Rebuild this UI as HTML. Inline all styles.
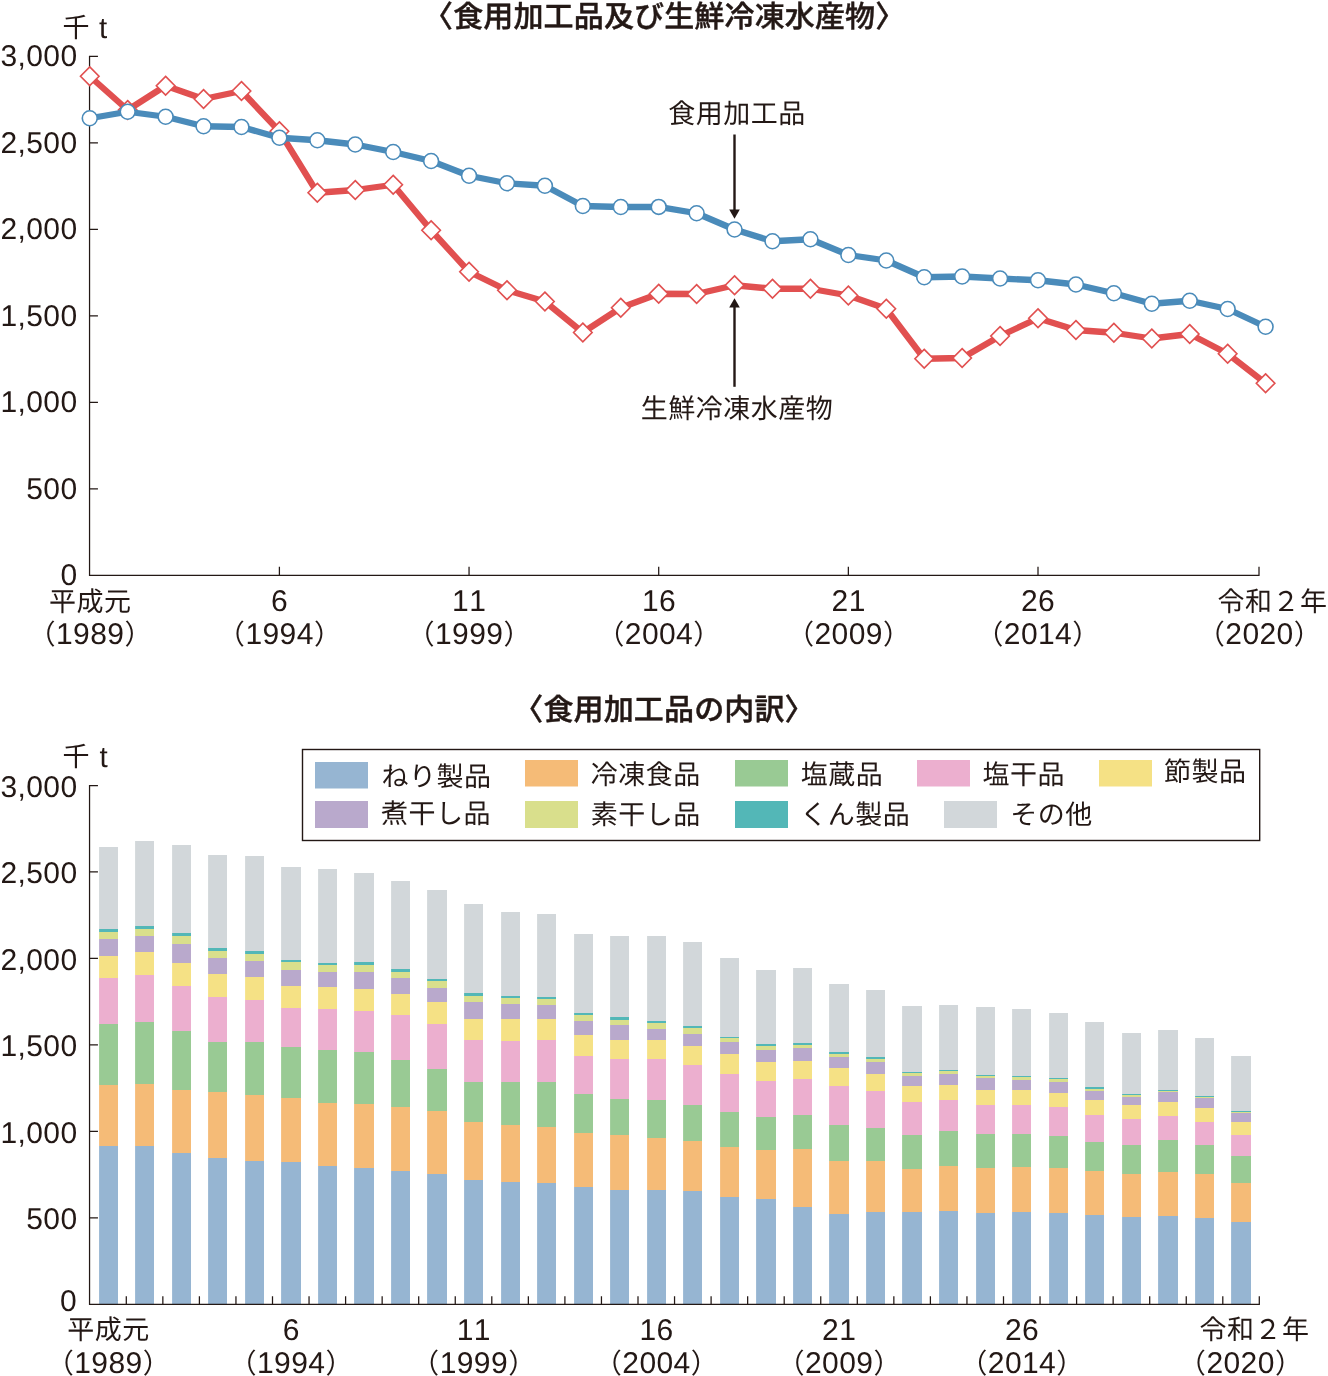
<!DOCTYPE html>
<html lang="ja"><head><meta charset="utf-8"><title>水産加工品生産量の推移</title>
<style>
html,body{margin:0;padding:0;background:#fff;}
body{width:1328px;height:1376px;overflow:hidden;}
svg{display:block;}
text{font-family:"Liberation Sans","Noto Sans CJK JP",sans-serif;fill:#231815;text-rendering:geometricPrecision;}
.jp{font-family:"Noto Sans CJK JP","Liberation Sans",sans-serif;font-weight:400;letter-spacing:0.5px;}
.num{font-family:"Liberation Sans","Noto Sans CJK JP",sans-serif;font-weight:400;letter-spacing:0.4px;font-kerning:none;}
.ttl{font-family:"Noto Sans CJK JP","Liberation Sans",sans-serif;font-weight:500;font-size:30px;letter-spacing:0.15px;stroke:#231815;stroke-width:0.45px;stroke-linejoin:round;}
.ax{stroke:#231815;stroke-width:1.25;fill:none;stroke-linejoin:miter;}
</style></head><body>
<svg width="1328" height="1376" viewBox="0 0 1328 1376">
<rect x="0" y="0" width="1328" height="1376" fill="#ffffff"/>
<g id="chart1">
<text class="ttl" x="664.2" y="26.6" font-size="30" text-anchor="middle">〈食用加工品及び生鮮冷凍水産物〉</text>
<path class="ax" d="M97.95 56.4 H89.55 V575.3 H1259.0 v-8.5"/>
<path class="ax" d="M89.55 142.88 h8.4 M89.55 229.37 h8.4 M89.55 315.85 h8.4 M89.55 402.33 h8.4 M89.55 488.82 h8.4 M279.40 575.3 v-8.5 M469.05 575.3 v-8.5 M658.70 575.3 v-8.5 M848.35 575.3 v-8.5 M1038.00 575.3 v-8.5 "/>
<text class="jp" font-size="27" text-anchor="start" x="62.45" y="36.6">千 <tspan class="num" font-size="29.5" text-anchor="middle" x="103.2" y="37.5">t</tspan></text>
<text class="num" x="77.5" y="66.2" font-size="30.0" text-anchor="end">3,000</text>
<text class="num" x="77.5" y="152.68" font-size="30.0" text-anchor="end">2,500</text>
<text class="num" x="77.5" y="239.17" font-size="30.0" text-anchor="end">2,000</text>
<text class="num" x="77.5" y="325.65" font-size="30.0" text-anchor="end">1,500</text>
<text class="num" x="77.5" y="412.13" font-size="30.0" text-anchor="end">1,000</text>
<text class="num" x="77.5" y="498.62" font-size="30.0" text-anchor="end">500</text>
<text class="num" x="77.5" y="585.1" font-size="30.0" text-anchor="end">0</text>
<text class="jp" x="90.2" y="610.5" font-size="27" text-anchor="middle">平成元</text>
<text class="num" font-size="30.0" text-anchor="middle" y="644"><tspan class="jp" font-size="27.6" x="42.00" dy="0.2">（</tspan><tspan x="90.20" dy="-0.2">1989</tspan><tspan class="jp" font-size="27.6" x="138.60" dy="0.2">）</tspan></text>
<text class="num" x="279.6" y="610.5" font-size="30.0" text-anchor="middle">6</text>
<text class="num" font-size="30.0" text-anchor="middle" y="644"><tspan class="jp" font-size="27.6" x="231.40" dy="0.2">（</tspan><tspan x="279.60" dy="-0.2">1994</tspan><tspan class="jp" font-size="27.6" x="328.00" dy="0.2">）</tspan></text>
<text class="num" x="469.2" y="610.5" font-size="30.0" text-anchor="middle">11</text>
<text class="num" font-size="30.0" text-anchor="middle" y="644"><tspan class="jp" font-size="27.6" x="421.00" dy="0.2">（</tspan><tspan x="469.20" dy="-0.2">1999</tspan><tspan class="jp" font-size="27.6" x="517.60" dy="0.2">）</tspan></text>
<text class="num" x="659" y="610.5" font-size="30.0" text-anchor="middle">16</text>
<text class="num" font-size="30.0" text-anchor="middle" y="644"><tspan class="jp" font-size="27.6" x="610.80" dy="0.2">（</tspan><tspan x="659.00" dy="-0.2">2004</tspan><tspan class="jp" font-size="27.6" x="707.40" dy="0.2">）</tspan></text>
<text class="num" x="848.7" y="610.5" font-size="30.0" text-anchor="middle">21</text>
<text class="num" font-size="30.0" text-anchor="middle" y="644"><tspan class="jp" font-size="27.6" x="800.50" dy="0.2">（</tspan><tspan x="848.70" dy="-0.2">2009</tspan><tspan class="jp" font-size="27.6" x="897.10" dy="0.2">）</tspan></text>
<text class="num" x="1038" y="610.5" font-size="30.0" text-anchor="middle">26</text>
<text class="num" font-size="30.0" text-anchor="middle" y="644"><tspan class="jp" font-size="27.6" x="989.80" dy="0.2">（</tspan><tspan x="1038.00" dy="-0.2">2014</tspan><tspan class="jp" font-size="27.6" x="1086.40" dy="0.2">）</tspan></text>
<text class="jp" x="1272.5" y="610.5" font-size="27" text-anchor="middle">令和２年</text>
<text class="num" font-size="30.0" text-anchor="middle" y="644"><tspan class="jp" font-size="27.6" x="1211.30" dy="0.2">（</tspan><tspan x="1259.50" dy="-0.2">2020</tspan><tspan class="jp" font-size="27.6" x="1307.90" dy="0.2">）</tspan></text>
<polyline points="89.75,76.25 127.68,110 165.61,85.75 203.54,99 241.47,91 279.40,131.25 317.33,192.75 355.26,190 393.19,184.75 431.12,230.25 469.05,271.75 506.98,290.25 544.91,301.5 582.84,332.5 620.77,307.75 658.70,293.75 696.63,294 734.56,285.25 772.49,288.75 810.42,288.75 848.35,295.5 886.28,308.75 924.21,358.75 962.14,358 1000.07,336 1038.00,318.25 1075.93,330 1113.86,332.75 1151.79,338.5 1189.72,334 1227.65,353.75 1265.58,383.25" fill="none" stroke="#e15050" stroke-width="6.3" stroke-linejoin="round"/>
<path d="M89.75 66.90 l9.25 9.35 l-9.25 9.35 l-9.25 -9.35 z" fill="#fff" stroke="#e15050" stroke-width="1.65"/>
<path d="M127.68 100.65 l9.25 9.35 l-9.25 9.35 l-9.25 -9.35 z" fill="#fff" stroke="#e15050" stroke-width="1.65"/>
<path d="M165.61 76.40 l9.25 9.35 l-9.25 9.35 l-9.25 -9.35 z" fill="#fff" stroke="#e15050" stroke-width="1.65"/>
<path d="M203.54 89.65 l9.25 9.35 l-9.25 9.35 l-9.25 -9.35 z" fill="#fff" stroke="#e15050" stroke-width="1.65"/>
<path d="M241.47 81.65 l9.25 9.35 l-9.25 9.35 l-9.25 -9.35 z" fill="#fff" stroke="#e15050" stroke-width="1.65"/>
<path d="M279.40 121.90 l9.25 9.35 l-9.25 9.35 l-9.25 -9.35 z" fill="#fff" stroke="#e15050" stroke-width="1.65"/>
<path d="M317.33 183.40 l9.25 9.35 l-9.25 9.35 l-9.25 -9.35 z" fill="#fff" stroke="#e15050" stroke-width="1.65"/>
<path d="M355.26 180.65 l9.25 9.35 l-9.25 9.35 l-9.25 -9.35 z" fill="#fff" stroke="#e15050" stroke-width="1.65"/>
<path d="M393.19 175.40 l9.25 9.35 l-9.25 9.35 l-9.25 -9.35 z" fill="#fff" stroke="#e15050" stroke-width="1.65"/>
<path d="M431.12 220.90 l9.25 9.35 l-9.25 9.35 l-9.25 -9.35 z" fill="#fff" stroke="#e15050" stroke-width="1.65"/>
<path d="M469.05 262.40 l9.25 9.35 l-9.25 9.35 l-9.25 -9.35 z" fill="#fff" stroke="#e15050" stroke-width="1.65"/>
<path d="M506.98 280.90 l9.25 9.35 l-9.25 9.35 l-9.25 -9.35 z" fill="#fff" stroke="#e15050" stroke-width="1.65"/>
<path d="M544.91 292.15 l9.25 9.35 l-9.25 9.35 l-9.25 -9.35 z" fill="#fff" stroke="#e15050" stroke-width="1.65"/>
<path d="M582.84 323.15 l9.25 9.35 l-9.25 9.35 l-9.25 -9.35 z" fill="#fff" stroke="#e15050" stroke-width="1.65"/>
<path d="M620.77 298.40 l9.25 9.35 l-9.25 9.35 l-9.25 -9.35 z" fill="#fff" stroke="#e15050" stroke-width="1.65"/>
<path d="M658.70 284.40 l9.25 9.35 l-9.25 9.35 l-9.25 -9.35 z" fill="#fff" stroke="#e15050" stroke-width="1.65"/>
<path d="M696.63 284.65 l9.25 9.35 l-9.25 9.35 l-9.25 -9.35 z" fill="#fff" stroke="#e15050" stroke-width="1.65"/>
<path d="M734.56 275.90 l9.25 9.35 l-9.25 9.35 l-9.25 -9.35 z" fill="#fff" stroke="#e15050" stroke-width="1.65"/>
<path d="M772.49 279.40 l9.25 9.35 l-9.25 9.35 l-9.25 -9.35 z" fill="#fff" stroke="#e15050" stroke-width="1.65"/>
<path d="M810.42 279.40 l9.25 9.35 l-9.25 9.35 l-9.25 -9.35 z" fill="#fff" stroke="#e15050" stroke-width="1.65"/>
<path d="M848.35 286.15 l9.25 9.35 l-9.25 9.35 l-9.25 -9.35 z" fill="#fff" stroke="#e15050" stroke-width="1.65"/>
<path d="M886.28 299.40 l9.25 9.35 l-9.25 9.35 l-9.25 -9.35 z" fill="#fff" stroke="#e15050" stroke-width="1.65"/>
<path d="M924.21 349.40 l9.25 9.35 l-9.25 9.35 l-9.25 -9.35 z" fill="#fff" stroke="#e15050" stroke-width="1.65"/>
<path d="M962.14 348.65 l9.25 9.35 l-9.25 9.35 l-9.25 -9.35 z" fill="#fff" stroke="#e15050" stroke-width="1.65"/>
<path d="M1000.07 326.65 l9.25 9.35 l-9.25 9.35 l-9.25 -9.35 z" fill="#fff" stroke="#e15050" stroke-width="1.65"/>
<path d="M1038.00 308.90 l9.25 9.35 l-9.25 9.35 l-9.25 -9.35 z" fill="#fff" stroke="#e15050" stroke-width="1.65"/>
<path d="M1075.93 320.65 l9.25 9.35 l-9.25 9.35 l-9.25 -9.35 z" fill="#fff" stroke="#e15050" stroke-width="1.65"/>
<path d="M1113.86 323.40 l9.25 9.35 l-9.25 9.35 l-9.25 -9.35 z" fill="#fff" stroke="#e15050" stroke-width="1.65"/>
<path d="M1151.79 329.15 l9.25 9.35 l-9.25 9.35 l-9.25 -9.35 z" fill="#fff" stroke="#e15050" stroke-width="1.65"/>
<path d="M1189.72 324.65 l9.25 9.35 l-9.25 9.35 l-9.25 -9.35 z" fill="#fff" stroke="#e15050" stroke-width="1.65"/>
<path d="M1227.65 344.40 l9.25 9.35 l-9.25 9.35 l-9.25 -9.35 z" fill="#fff" stroke="#e15050" stroke-width="1.65"/>
<path d="M1265.58 373.90 l9.25 9.35 l-9.25 9.35 l-9.25 -9.35 z" fill="#fff" stroke="#e15050" stroke-width="1.65"/>
<polyline points="89.75,118.25 127.68,111.75 165.61,116.75 203.54,126.25 241.47,127 279.40,137.75 317.33,140.25 355.26,144.5 393.19,152 431.12,161 469.05,175.75 506.98,183.25 544.91,185.75 582.84,206 620.77,207 658.70,206.9 696.63,213.25 734.56,229.5 772.49,241.25 810.42,239.25 848.35,255 886.28,260.5 924.21,277.25 962.14,276.5 1000.07,278.5 1038.00,280.25 1075.93,284.5 1113.86,293.25 1151.79,303.75 1189.72,300.75 1227.65,309 1265.58,326.75" fill="none" stroke="#4a8bba" stroke-width="6.3" stroke-linejoin="round"/>
<circle cx="89.75" cy="118.25" r="7.45" fill="#fff" stroke="#4a8bba" stroke-width="1.6"/>
<circle cx="127.68" cy="111.75" r="7.45" fill="#fff" stroke="#4a8bba" stroke-width="1.6"/>
<circle cx="165.61" cy="116.75" r="7.45" fill="#fff" stroke="#4a8bba" stroke-width="1.6"/>
<circle cx="203.54" cy="126.25" r="7.45" fill="#fff" stroke="#4a8bba" stroke-width="1.6"/>
<circle cx="241.47" cy="127" r="7.45" fill="#fff" stroke="#4a8bba" stroke-width="1.6"/>
<circle cx="279.40" cy="137.75" r="7.45" fill="#fff" stroke="#4a8bba" stroke-width="1.6"/>
<circle cx="317.33" cy="140.25" r="7.45" fill="#fff" stroke="#4a8bba" stroke-width="1.6"/>
<circle cx="355.26" cy="144.5" r="7.45" fill="#fff" stroke="#4a8bba" stroke-width="1.6"/>
<circle cx="393.19" cy="152" r="7.45" fill="#fff" stroke="#4a8bba" stroke-width="1.6"/>
<circle cx="431.12" cy="161" r="7.45" fill="#fff" stroke="#4a8bba" stroke-width="1.6"/>
<circle cx="469.05" cy="175.75" r="7.45" fill="#fff" stroke="#4a8bba" stroke-width="1.6"/>
<circle cx="506.98" cy="183.25" r="7.45" fill="#fff" stroke="#4a8bba" stroke-width="1.6"/>
<circle cx="544.91" cy="185.75" r="7.45" fill="#fff" stroke="#4a8bba" stroke-width="1.6"/>
<circle cx="582.84" cy="206" r="7.45" fill="#fff" stroke="#4a8bba" stroke-width="1.6"/>
<circle cx="620.77" cy="207" r="7.45" fill="#fff" stroke="#4a8bba" stroke-width="1.6"/>
<circle cx="658.70" cy="206.9" r="7.45" fill="#fff" stroke="#4a8bba" stroke-width="1.6"/>
<circle cx="696.63" cy="213.25" r="7.45" fill="#fff" stroke="#4a8bba" stroke-width="1.6"/>
<circle cx="734.56" cy="229.5" r="7.45" fill="#fff" stroke="#4a8bba" stroke-width="1.6"/>
<circle cx="772.49" cy="241.25" r="7.45" fill="#fff" stroke="#4a8bba" stroke-width="1.6"/>
<circle cx="810.42" cy="239.25" r="7.45" fill="#fff" stroke="#4a8bba" stroke-width="1.6"/>
<circle cx="848.35" cy="255" r="7.45" fill="#fff" stroke="#4a8bba" stroke-width="1.6"/>
<circle cx="886.28" cy="260.5" r="7.45" fill="#fff" stroke="#4a8bba" stroke-width="1.6"/>
<circle cx="924.21" cy="277.25" r="7.45" fill="#fff" stroke="#4a8bba" stroke-width="1.6"/>
<circle cx="962.14" cy="276.5" r="7.45" fill="#fff" stroke="#4a8bba" stroke-width="1.6"/>
<circle cx="1000.07" cy="278.5" r="7.45" fill="#fff" stroke="#4a8bba" stroke-width="1.6"/>
<circle cx="1038.00" cy="280.25" r="7.45" fill="#fff" stroke="#4a8bba" stroke-width="1.6"/>
<circle cx="1075.93" cy="284.5" r="7.45" fill="#fff" stroke="#4a8bba" stroke-width="1.6"/>
<circle cx="1113.86" cy="293.25" r="7.45" fill="#fff" stroke="#4a8bba" stroke-width="1.6"/>
<circle cx="1151.79" cy="303.75" r="7.45" fill="#fff" stroke="#4a8bba" stroke-width="1.6"/>
<circle cx="1189.72" cy="300.75" r="7.45" fill="#fff" stroke="#4a8bba" stroke-width="1.6"/>
<circle cx="1227.65" cy="309" r="7.45" fill="#fff" stroke="#4a8bba" stroke-width="1.6"/>
<circle cx="1265.58" cy="326.75" r="7.45" fill="#fff" stroke="#4a8bba" stroke-width="1.6"/>
<text class="jp" x="737" y="122.5" font-size="27" text-anchor="middle">食用加工品</text>
<text class="jp" x="737" y="417.5" font-size="27" text-anchor="middle">生鮮冷凍水産物</text>
<path d="M734.5 134.5 V211" stroke="#231815" stroke-width="2.4" fill="none"/>
<path d="M729.2 209.5 h10.6 L734.5 218.8 z" fill="#231815"/>
<path d="M734.5 386.8 V306" stroke="#231815" stroke-width="2.4" fill="none"/>
<path d="M729.2 307.5 h10.6 L734.5 298.2 z" fill="#231815"/>
</g>
<g id="chart2">
<text class="ttl" x="664" y="720" font-size="30" text-anchor="middle">〈食用加工品の内訳〉</text>
<rect x="99.10" y="847" width="18.90" height="82.00" fill="#d2d7da"/>
<rect x="99.10" y="929" width="18.90" height="3.00" fill="#53b7b7"/>
<rect x="99.10" y="932" width="18.90" height="7.00" fill="#d9df8c"/>
<rect x="99.10" y="939" width="18.90" height="17.00" fill="#b9a9cc"/>
<rect x="99.10" y="956" width="18.90" height="22.00" fill="#f5e185"/>
<rect x="99.10" y="978" width="18.90" height="46.00" fill="#ecafcf"/>
<rect x="99.10" y="1024" width="18.90" height="61.00" fill="#99ca94"/>
<rect x="99.10" y="1085" width="18.90" height="61.00" fill="#f5bb77"/>
<rect x="99.10" y="1146" width="18.90" height="158.25" fill="#96b5d2"/>
<rect x="135.10" y="841" width="18.90" height="85.00" fill="#d2d7da"/>
<rect x="135.10" y="926" width="18.90" height="3.00" fill="#53b7b7"/>
<rect x="135.10" y="929" width="18.90" height="7.00" fill="#d9df8c"/>
<rect x="135.10" y="936" width="18.90" height="16.00" fill="#b9a9cc"/>
<rect x="135.10" y="952" width="18.90" height="23.00" fill="#f5e185"/>
<rect x="135.10" y="975" width="18.90" height="47.00" fill="#ecafcf"/>
<rect x="135.10" y="1022" width="18.90" height="62.00" fill="#99ca94"/>
<rect x="135.10" y="1084" width="18.90" height="62.00" fill="#f5bb77"/>
<rect x="135.10" y="1146" width="18.90" height="158.25" fill="#96b5d2"/>
<rect x="172.10" y="845" width="18.90" height="88.00" fill="#d2d7da"/>
<rect x="172.10" y="933" width="18.90" height="3.00" fill="#53b7b7"/>
<rect x="172.10" y="936" width="18.90" height="8.00" fill="#d9df8c"/>
<rect x="172.10" y="944" width="18.90" height="19.00" fill="#b9a9cc"/>
<rect x="172.10" y="963" width="18.90" height="23.00" fill="#f5e185"/>
<rect x="172.10" y="986" width="18.90" height="45.00" fill="#ecafcf"/>
<rect x="172.10" y="1031" width="18.90" height="59.00" fill="#99ca94"/>
<rect x="172.10" y="1090" width="18.90" height="63.00" fill="#f5bb77"/>
<rect x="172.10" y="1153" width="18.90" height="151.25" fill="#96b5d2"/>
<rect x="208.10" y="855" width="18.90" height="93.00" fill="#d2d7da"/>
<rect x="208.10" y="948" width="18.90" height="3.00" fill="#53b7b7"/>
<rect x="208.10" y="951" width="18.90" height="7.00" fill="#d9df8c"/>
<rect x="208.10" y="958" width="18.90" height="16.00" fill="#b9a9cc"/>
<rect x="208.10" y="974" width="18.90" height="23.00" fill="#f5e185"/>
<rect x="208.10" y="997" width="18.90" height="45.00" fill="#ecafcf"/>
<rect x="208.10" y="1042" width="18.90" height="50.00" fill="#99ca94"/>
<rect x="208.10" y="1092" width="18.90" height="66.00" fill="#f5bb77"/>
<rect x="208.10" y="1158" width="18.90" height="146.25" fill="#96b5d2"/>
<rect x="245.10" y="856" width="18.90" height="95.00" fill="#d2d7da"/>
<rect x="245.10" y="951" width="18.90" height="3.00" fill="#53b7b7"/>
<rect x="245.10" y="954" width="18.90" height="7.00" fill="#d9df8c"/>
<rect x="245.10" y="961" width="18.90" height="16.00" fill="#b9a9cc"/>
<rect x="245.10" y="977" width="18.90" height="23.00" fill="#f5e185"/>
<rect x="245.10" y="1000" width="18.90" height="42.00" fill="#ecafcf"/>
<rect x="245.10" y="1042" width="18.90" height="53.00" fill="#99ca94"/>
<rect x="245.10" y="1095" width="18.90" height="66.00" fill="#f5bb77"/>
<rect x="245.10" y="1161" width="18.90" height="143.25" fill="#96b5d2"/>
<rect x="281.10" y="867" width="19.90" height="93.00" fill="#d2d7da"/>
<rect x="281.10" y="960" width="19.90" height="2.00" fill="#53b7b7"/>
<rect x="281.10" y="962" width="19.90" height="8.00" fill="#d9df8c"/>
<rect x="281.10" y="970" width="19.90" height="16.00" fill="#b9a9cc"/>
<rect x="281.10" y="986" width="19.90" height="22.00" fill="#f5e185"/>
<rect x="281.10" y="1008" width="19.90" height="39.00" fill="#ecafcf"/>
<rect x="281.10" y="1047" width="19.90" height="51.00" fill="#99ca94"/>
<rect x="281.10" y="1098" width="19.90" height="64.00" fill="#f5bb77"/>
<rect x="281.10" y="1162" width="19.90" height="142.25" fill="#96b5d2"/>
<rect x="318.10" y="869" width="18.90" height="94.00" fill="#d2d7da"/>
<rect x="318.10" y="963" width="18.90" height="2.00" fill="#53b7b7"/>
<rect x="318.10" y="965" width="18.90" height="7.00" fill="#d9df8c"/>
<rect x="318.10" y="972" width="18.90" height="15.00" fill="#b9a9cc"/>
<rect x="318.10" y="987" width="18.90" height="22.00" fill="#f5e185"/>
<rect x="318.10" y="1009" width="18.90" height="41.00" fill="#ecafcf"/>
<rect x="318.10" y="1050" width="18.90" height="53.00" fill="#99ca94"/>
<rect x="318.10" y="1103" width="18.90" height="63.00" fill="#f5bb77"/>
<rect x="318.10" y="1166" width="18.90" height="138.25" fill="#96b5d2"/>
<rect x="354.10" y="873" width="19.90" height="89.00" fill="#d2d7da"/>
<rect x="354.10" y="962" width="19.90" height="3.00" fill="#53b7b7"/>
<rect x="354.10" y="965" width="19.90" height="7.00" fill="#d9df8c"/>
<rect x="354.10" y="972" width="19.90" height="17.00" fill="#b9a9cc"/>
<rect x="354.10" y="989" width="19.90" height="22.00" fill="#f5e185"/>
<rect x="354.10" y="1011" width="19.90" height="41.00" fill="#ecafcf"/>
<rect x="354.10" y="1052" width="19.90" height="52.00" fill="#99ca94"/>
<rect x="354.10" y="1104" width="19.90" height="64.00" fill="#f5bb77"/>
<rect x="354.10" y="1168" width="19.90" height="136.25" fill="#96b5d2"/>
<rect x="391.10" y="881" width="18.90" height="88.00" fill="#d2d7da"/>
<rect x="391.10" y="969" width="18.90" height="3.00" fill="#53b7b7"/>
<rect x="391.10" y="972" width="18.90" height="6.00" fill="#d9df8c"/>
<rect x="391.10" y="978" width="18.90" height="16.00" fill="#b9a9cc"/>
<rect x="391.10" y="994" width="18.90" height="21.00" fill="#f5e185"/>
<rect x="391.10" y="1015" width="18.90" height="45.00" fill="#ecafcf"/>
<rect x="391.10" y="1060" width="18.90" height="47.00" fill="#99ca94"/>
<rect x="391.10" y="1107" width="18.90" height="64.00" fill="#f5bb77"/>
<rect x="391.10" y="1171" width="18.90" height="133.25" fill="#96b5d2"/>
<rect x="427.10" y="890" width="19.90" height="89.00" fill="#d2d7da"/>
<rect x="427.10" y="979" width="19.90" height="2.00" fill="#53b7b7"/>
<rect x="427.10" y="981" width="19.90" height="7.00" fill="#d9df8c"/>
<rect x="427.10" y="988" width="19.90" height="14.00" fill="#b9a9cc"/>
<rect x="427.10" y="1002" width="19.90" height="22.00" fill="#f5e185"/>
<rect x="427.10" y="1024" width="19.90" height="45.00" fill="#ecafcf"/>
<rect x="427.10" y="1069" width="19.90" height="42.00" fill="#99ca94"/>
<rect x="427.10" y="1111" width="19.90" height="63.00" fill="#f5bb77"/>
<rect x="427.10" y="1174" width="19.90" height="130.25" fill="#96b5d2"/>
<rect x="464.10" y="904" width="18.90" height="89.00" fill="#d2d7da"/>
<rect x="464.10" y="993" width="18.90" height="3.00" fill="#53b7b7"/>
<rect x="464.10" y="996" width="18.90" height="6.00" fill="#d9df8c"/>
<rect x="464.10" y="1002" width="18.90" height="17.00" fill="#b9a9cc"/>
<rect x="464.10" y="1019" width="18.90" height="21.00" fill="#f5e185"/>
<rect x="464.10" y="1040" width="18.90" height="42.00" fill="#ecafcf"/>
<rect x="464.10" y="1082" width="18.90" height="40.00" fill="#99ca94"/>
<rect x="464.10" y="1122" width="18.90" height="58.00" fill="#f5bb77"/>
<rect x="464.10" y="1180" width="18.90" height="124.25" fill="#96b5d2"/>
<rect x="501.10" y="912" width="18.90" height="84.00" fill="#d2d7da"/>
<rect x="501.10" y="996" width="18.90" height="2.00" fill="#53b7b7"/>
<rect x="501.10" y="998" width="18.90" height="6.00" fill="#d9df8c"/>
<rect x="501.10" y="1004" width="18.90" height="15.00" fill="#b9a9cc"/>
<rect x="501.10" y="1019" width="18.90" height="22.00" fill="#f5e185"/>
<rect x="501.10" y="1041" width="18.90" height="41.00" fill="#ecafcf"/>
<rect x="501.10" y="1082" width="18.90" height="43.00" fill="#99ca94"/>
<rect x="501.10" y="1125" width="18.90" height="57.00" fill="#f5bb77"/>
<rect x="501.10" y="1182" width="18.90" height="122.25" fill="#96b5d2"/>
<rect x="537.10" y="914" width="18.90" height="83.00" fill="#d2d7da"/>
<rect x="537.10" y="997" width="18.90" height="2.00" fill="#53b7b7"/>
<rect x="537.10" y="999" width="18.90" height="6.00" fill="#d9df8c"/>
<rect x="537.10" y="1005" width="18.90" height="14.00" fill="#b9a9cc"/>
<rect x="537.10" y="1019" width="18.90" height="21.00" fill="#f5e185"/>
<rect x="537.10" y="1040" width="18.90" height="42.00" fill="#ecafcf"/>
<rect x="537.10" y="1082" width="18.90" height="45.00" fill="#99ca94"/>
<rect x="537.10" y="1127" width="18.90" height="56.00" fill="#f5bb77"/>
<rect x="537.10" y="1183" width="18.90" height="121.25" fill="#96b5d2"/>
<rect x="574.10" y="934" width="18.90" height="79.00" fill="#d2d7da"/>
<rect x="574.10" y="1013" width="18.90" height="2.00" fill="#53b7b7"/>
<rect x="574.10" y="1015" width="18.90" height="6.00" fill="#d9df8c"/>
<rect x="574.10" y="1021" width="18.90" height="14.00" fill="#b9a9cc"/>
<rect x="574.10" y="1035" width="18.90" height="21.00" fill="#f5e185"/>
<rect x="574.10" y="1056" width="18.90" height="38.00" fill="#ecafcf"/>
<rect x="574.10" y="1094" width="18.90" height="39.00" fill="#99ca94"/>
<rect x="574.10" y="1133" width="18.90" height="54.00" fill="#f5bb77"/>
<rect x="574.10" y="1187" width="18.90" height="117.25" fill="#96b5d2"/>
<rect x="610.10" y="936" width="18.90" height="81.00" fill="#d2d7da"/>
<rect x="610.10" y="1017" width="18.90" height="3.00" fill="#53b7b7"/>
<rect x="610.10" y="1020" width="18.90" height="5.00" fill="#d9df8c"/>
<rect x="610.10" y="1025" width="18.90" height="15.00" fill="#b9a9cc"/>
<rect x="610.10" y="1040" width="18.90" height="19.00" fill="#f5e185"/>
<rect x="610.10" y="1059" width="18.90" height="40.00" fill="#ecafcf"/>
<rect x="610.10" y="1099" width="18.90" height="36.00" fill="#99ca94"/>
<rect x="610.10" y="1135" width="18.90" height="55.00" fill="#f5bb77"/>
<rect x="610.10" y="1190" width="18.90" height="114.25" fill="#96b5d2"/>
<rect x="647.10" y="936" width="18.90" height="85.00" fill="#d2d7da"/>
<rect x="647.10" y="1021" width="18.90" height="2.00" fill="#53b7b7"/>
<rect x="647.10" y="1023" width="18.90" height="6.00" fill="#d9df8c"/>
<rect x="647.10" y="1029" width="18.90" height="11.00" fill="#b9a9cc"/>
<rect x="647.10" y="1040" width="18.90" height="19.00" fill="#f5e185"/>
<rect x="647.10" y="1059" width="18.90" height="41.00" fill="#ecafcf"/>
<rect x="647.10" y="1100" width="18.90" height="38.00" fill="#99ca94"/>
<rect x="647.10" y="1138" width="18.90" height="52.00" fill="#f5bb77"/>
<rect x="647.10" y="1190" width="18.90" height="114.25" fill="#96b5d2"/>
<rect x="683.10" y="942" width="18.90" height="84.00" fill="#d2d7da"/>
<rect x="683.10" y="1026" width="18.90" height="2.00" fill="#53b7b7"/>
<rect x="683.10" y="1028" width="18.90" height="6.00" fill="#d9df8c"/>
<rect x="683.10" y="1034" width="18.90" height="12.00" fill="#b9a9cc"/>
<rect x="683.10" y="1046" width="18.90" height="19.00" fill="#f5e185"/>
<rect x="683.10" y="1065" width="18.90" height="40.00" fill="#ecafcf"/>
<rect x="683.10" y="1105" width="18.90" height="36.00" fill="#99ca94"/>
<rect x="683.10" y="1141" width="18.90" height="50.00" fill="#f5bb77"/>
<rect x="683.10" y="1191" width="18.90" height="113.25" fill="#96b5d2"/>
<rect x="720.10" y="958" width="18.90" height="79.00" fill="#d2d7da"/>
<rect x="720.10" y="1037" width="18.90" height="1.00" fill="#53b7b7"/>
<rect x="720.10" y="1038" width="18.90" height="4.00" fill="#d9df8c"/>
<rect x="720.10" y="1042" width="18.90" height="12.00" fill="#b9a9cc"/>
<rect x="720.10" y="1054" width="18.90" height="20.00" fill="#f5e185"/>
<rect x="720.10" y="1074" width="18.90" height="38.00" fill="#ecafcf"/>
<rect x="720.10" y="1112" width="18.90" height="35.00" fill="#99ca94"/>
<rect x="720.10" y="1147" width="18.90" height="50.00" fill="#f5bb77"/>
<rect x="720.10" y="1197" width="18.90" height="107.25" fill="#96b5d2"/>
<rect x="756.10" y="970" width="19.90" height="74.00" fill="#d2d7da"/>
<rect x="756.10" y="1044" width="19.90" height="2.00" fill="#53b7b7"/>
<rect x="756.10" y="1046" width="19.90" height="4.00" fill="#d9df8c"/>
<rect x="756.10" y="1050" width="19.90" height="12.00" fill="#b9a9cc"/>
<rect x="756.10" y="1062" width="19.90" height="19.00" fill="#f5e185"/>
<rect x="756.10" y="1081" width="19.90" height="36.00" fill="#ecafcf"/>
<rect x="756.10" y="1117" width="19.90" height="33.00" fill="#99ca94"/>
<rect x="756.10" y="1150" width="19.90" height="49.00" fill="#f5bb77"/>
<rect x="756.10" y="1199" width="19.90" height="105.25" fill="#96b5d2"/>
<rect x="793.10" y="968" width="18.90" height="75.00" fill="#d2d7da"/>
<rect x="793.10" y="1043" width="18.90" height="2.00" fill="#53b7b7"/>
<rect x="793.10" y="1045" width="18.90" height="3.00" fill="#d9df8c"/>
<rect x="793.10" y="1048" width="18.90" height="13.00" fill="#b9a9cc"/>
<rect x="793.10" y="1061" width="18.90" height="18.00" fill="#f5e185"/>
<rect x="793.10" y="1079" width="18.90" height="36.00" fill="#ecafcf"/>
<rect x="793.10" y="1115" width="18.90" height="34.00" fill="#99ca94"/>
<rect x="793.10" y="1149" width="18.90" height="58.00" fill="#f5bb77"/>
<rect x="793.10" y="1207" width="18.90" height="97.25" fill="#96b5d2"/>
<rect x="829.10" y="984" width="19.90" height="68.00" fill="#d2d7da"/>
<rect x="829.10" y="1052" width="19.90" height="2.00" fill="#53b7b7"/>
<rect x="829.10" y="1054" width="19.90" height="3.00" fill="#d9df8c"/>
<rect x="829.10" y="1057" width="19.90" height="11.00" fill="#b9a9cc"/>
<rect x="829.10" y="1068" width="19.90" height="18.00" fill="#f5e185"/>
<rect x="829.10" y="1086" width="19.90" height="39.00" fill="#ecafcf"/>
<rect x="829.10" y="1125" width="19.90" height="36.00" fill="#99ca94"/>
<rect x="829.10" y="1161" width="19.90" height="53.00" fill="#f5bb77"/>
<rect x="829.10" y="1214" width="19.90" height="90.25" fill="#96b5d2"/>
<rect x="866.10" y="990" width="18.90" height="67.00" fill="#d2d7da"/>
<rect x="866.10" y="1057" width="18.90" height="2.00" fill="#53b7b7"/>
<rect x="866.10" y="1059" width="18.90" height="3.00" fill="#d9df8c"/>
<rect x="866.10" y="1062" width="18.90" height="12.00" fill="#b9a9cc"/>
<rect x="866.10" y="1074" width="18.90" height="17.00" fill="#f5e185"/>
<rect x="866.10" y="1091" width="18.90" height="37.00" fill="#ecafcf"/>
<rect x="866.10" y="1128" width="18.90" height="33.00" fill="#99ca94"/>
<rect x="866.10" y="1161" width="18.90" height="51.00" fill="#f5bb77"/>
<rect x="866.10" y="1212" width="18.90" height="92.25" fill="#96b5d2"/>
<rect x="902.10" y="1006" width="19.90" height="66.00" fill="#d2d7da"/>
<rect x="902.10" y="1072" width="19.90" height="1.00" fill="#53b7b7"/>
<rect x="902.10" y="1073" width="19.90" height="3.00" fill="#d9df8c"/>
<rect x="902.10" y="1076" width="19.90" height="10.00" fill="#b9a9cc"/>
<rect x="902.10" y="1086" width="19.90" height="16.00" fill="#f5e185"/>
<rect x="902.10" y="1102" width="19.90" height="33.00" fill="#ecafcf"/>
<rect x="902.10" y="1135" width="19.90" height="34.00" fill="#99ca94"/>
<rect x="902.10" y="1169" width="19.90" height="43.00" fill="#f5bb77"/>
<rect x="902.10" y="1212" width="19.90" height="92.25" fill="#96b5d2"/>
<rect x="939.10" y="1005" width="18.90" height="65.00" fill="#d2d7da"/>
<rect x="939.10" y="1070" width="18.90" height="1.00" fill="#53b7b7"/>
<rect x="939.10" y="1071" width="18.90" height="3.00" fill="#d9df8c"/>
<rect x="939.10" y="1074" width="18.90" height="11.00" fill="#b9a9cc"/>
<rect x="939.10" y="1085" width="18.90" height="15.00" fill="#f5e185"/>
<rect x="939.10" y="1100" width="18.90" height="31.00" fill="#ecafcf"/>
<rect x="939.10" y="1131" width="18.90" height="35.00" fill="#99ca94"/>
<rect x="939.10" y="1166" width="18.90" height="45.00" fill="#f5bb77"/>
<rect x="939.10" y="1211" width="18.90" height="93.25" fill="#96b5d2"/>
<rect x="976.10" y="1007" width="18.90" height="68.00" fill="#d2d7da"/>
<rect x="976.10" y="1075" width="18.90" height="1.00" fill="#53b7b7"/>
<rect x="976.10" y="1076" width="18.90" height="2.00" fill="#d9df8c"/>
<rect x="976.10" y="1078" width="18.90" height="12.00" fill="#b9a9cc"/>
<rect x="976.10" y="1090" width="18.90" height="15.00" fill="#f5e185"/>
<rect x="976.10" y="1105" width="18.90" height="29.00" fill="#ecafcf"/>
<rect x="976.10" y="1134" width="18.90" height="34.00" fill="#99ca94"/>
<rect x="976.10" y="1168" width="18.90" height="45.00" fill="#f5bb77"/>
<rect x="976.10" y="1213" width="18.90" height="91.25" fill="#96b5d2"/>
<rect x="1012.10" y="1009" width="18.90" height="67.00" fill="#d2d7da"/>
<rect x="1012.10" y="1076" width="18.90" height="1.00" fill="#53b7b7"/>
<rect x="1012.10" y="1077" width="18.90" height="3.00" fill="#d9df8c"/>
<rect x="1012.10" y="1080" width="18.90" height="10.00" fill="#b9a9cc"/>
<rect x="1012.10" y="1090" width="18.90" height="15.00" fill="#f5e185"/>
<rect x="1012.10" y="1105" width="18.90" height="29.00" fill="#ecafcf"/>
<rect x="1012.10" y="1134" width="18.90" height="33.00" fill="#99ca94"/>
<rect x="1012.10" y="1167" width="18.90" height="45.00" fill="#f5bb77"/>
<rect x="1012.10" y="1212" width="18.90" height="92.25" fill="#96b5d2"/>
<rect x="1049.10" y="1013" width="18.90" height="65.00" fill="#d2d7da"/>
<rect x="1049.10" y="1078" width="18.90" height="1.00" fill="#53b7b7"/>
<rect x="1049.10" y="1079" width="18.90" height="3.00" fill="#d9df8c"/>
<rect x="1049.10" y="1082" width="18.90" height="11.00" fill="#b9a9cc"/>
<rect x="1049.10" y="1093" width="18.90" height="14.00" fill="#f5e185"/>
<rect x="1049.10" y="1107" width="18.90" height="29.00" fill="#ecafcf"/>
<rect x="1049.10" y="1136" width="18.90" height="32.00" fill="#99ca94"/>
<rect x="1049.10" y="1168" width="18.90" height="45.00" fill="#f5bb77"/>
<rect x="1049.10" y="1213" width="18.90" height="91.25" fill="#96b5d2"/>
<rect x="1085.10" y="1022" width="18.90" height="65.00" fill="#d2d7da"/>
<rect x="1085.10" y="1087" width="18.90" height="2.00" fill="#53b7b7"/>
<rect x="1085.10" y="1089" width="18.90" height="2.00" fill="#d9df8c"/>
<rect x="1085.10" y="1091" width="18.90" height="9.00" fill="#b9a9cc"/>
<rect x="1085.10" y="1100" width="18.90" height="15.00" fill="#f5e185"/>
<rect x="1085.10" y="1115" width="18.90" height="27.00" fill="#ecafcf"/>
<rect x="1085.10" y="1142" width="18.90" height="29.00" fill="#99ca94"/>
<rect x="1085.10" y="1171" width="18.90" height="44.00" fill="#f5bb77"/>
<rect x="1085.10" y="1215" width="18.90" height="89.25" fill="#96b5d2"/>
<rect x="1122.10" y="1033" width="18.90" height="61.00" fill="#d2d7da"/>
<rect x="1122.10" y="1094" width="18.90" height="1.00" fill="#53b7b7"/>
<rect x="1122.10" y="1095" width="18.90" height="2.00" fill="#d9df8c"/>
<rect x="1122.10" y="1097" width="18.90" height="8.00" fill="#b9a9cc"/>
<rect x="1122.10" y="1105" width="18.90" height="14.00" fill="#f5e185"/>
<rect x="1122.10" y="1119" width="18.90" height="26.00" fill="#ecafcf"/>
<rect x="1122.10" y="1145" width="18.90" height="29.00" fill="#99ca94"/>
<rect x="1122.10" y="1174" width="18.90" height="43.00" fill="#f5bb77"/>
<rect x="1122.10" y="1217" width="18.90" height="87.25" fill="#96b5d2"/>
<rect x="1158.10" y="1030" width="19.90" height="60.00" fill="#d2d7da"/>
<rect x="1158.10" y="1090" width="19.90" height="1.00" fill="#53b7b7"/>
<rect x="1158.10" y="1091" width="19.90" height="1.00" fill="#d9df8c"/>
<rect x="1158.10" y="1092" width="19.90" height="10.00" fill="#b9a9cc"/>
<rect x="1158.10" y="1102" width="19.90" height="14.00" fill="#f5e185"/>
<rect x="1158.10" y="1116" width="19.90" height="24.00" fill="#ecafcf"/>
<rect x="1158.10" y="1140" width="19.90" height="32.00" fill="#99ca94"/>
<rect x="1158.10" y="1172" width="19.90" height="44.00" fill="#f5bb77"/>
<rect x="1158.10" y="1216" width="19.90" height="88.25" fill="#96b5d2"/>
<rect x="1195.10" y="1038" width="18.90" height="58.00" fill="#d2d7da"/>
<rect x="1195.10" y="1096" width="18.90" height="1.00" fill="#53b7b7"/>
<rect x="1195.10" y="1097" width="18.90" height="1.00" fill="#d9df8c"/>
<rect x="1195.10" y="1098" width="18.90" height="10.00" fill="#b9a9cc"/>
<rect x="1195.10" y="1108" width="18.90" height="14.00" fill="#f5e185"/>
<rect x="1195.10" y="1122" width="18.90" height="23.00" fill="#ecafcf"/>
<rect x="1195.10" y="1145" width="18.90" height="29.00" fill="#99ca94"/>
<rect x="1195.10" y="1174" width="18.90" height="44.00" fill="#f5bb77"/>
<rect x="1195.10" y="1218" width="18.90" height="86.25" fill="#96b5d2"/>
<rect x="1231.10" y="1056" width="19.90" height="55.00" fill="#d2d7da"/>
<rect x="1231.10" y="1111" width="19.90" height="1.00" fill="#53b7b7"/>
<rect x="1231.10" y="1112" width="19.90" height="1.00" fill="#d9df8c"/>
<rect x="1231.10" y="1113" width="19.90" height="9.00" fill="#b9a9cc"/>
<rect x="1231.10" y="1122" width="19.90" height="13.00" fill="#f5e185"/>
<rect x="1231.10" y="1135" width="19.90" height="21.00" fill="#ecafcf"/>
<rect x="1231.10" y="1156" width="19.90" height="27.00" fill="#99ca94"/>
<rect x="1231.10" y="1183" width="19.90" height="39.00" fill="#f5bb77"/>
<rect x="1231.10" y="1222" width="19.90" height="82.25" fill="#96b5d2"/>
<path class="ax" d="M97.95 785.5 H89.55 V1304.25 H1259.3 v-8"/>
<path class="ax" d="M89.55 871.96 h8.4 M89.55 958.42 h8.4 M89.55 1044.88 h8.4 M89.55 1131.33 h8.4 M89.55 1217.79 h8.4 M126.30 1304.25 v-8 M162.85 1304.25 v-8 M199.40 1304.25 v-8 M235.95 1304.25 v-8 M272.50 1304.25 v-8 M309.05 1304.25 v-8 M345.60 1304.25 v-8 M382.15 1304.25 v-8 M418.70 1304.25 v-8 M455.25 1304.25 v-8 M491.80 1304.25 v-8 M528.35 1304.25 v-8 M564.90 1304.25 v-8 M601.45 1304.25 v-8 M638.00 1304.25 v-8 M674.55 1304.25 v-8 M711.10 1304.25 v-8 M747.65 1304.25 v-8 M784.20 1304.25 v-8 M820.75 1304.25 v-8 M857.30 1304.25 v-8 M893.85 1304.25 v-8 M930.40 1304.25 v-8 M966.95 1304.25 v-8 M1003.50 1304.25 v-8 M1040.05 1304.25 v-8 M1076.60 1304.25 v-8 M1113.15 1304.25 v-8 M1149.70 1304.25 v-8 M1186.25 1304.25 v-8 M1222.80 1304.25 v-8 "/>
<text class="jp" font-size="27" text-anchor="start" x="62.55" y="765.6">千 <tspan class="num" font-size="29.5" text-anchor="middle" x="103.7" y="766.5">t</tspan></text>
<text class="num" x="77.5" y="796.8" font-size="30.0" text-anchor="end">3,000</text>
<text class="num" x="77.5" y="883.26" font-size="30.0" text-anchor="end">2,500</text>
<text class="num" x="77.5" y="969.72" font-size="30.0" text-anchor="end">2,000</text>
<text class="num" x="77.5" y="1056.17" font-size="30.0" text-anchor="end">1,500</text>
<text class="num" x="77.5" y="1142.63" font-size="30.0" text-anchor="end">1,000</text>
<text class="num" x="77.5" y="1229.09" font-size="30.0" text-anchor="end">500</text>
<text class="num" x="77.0" y="1311.05" font-size="30.0" text-anchor="end">0</text>
<text class="jp" x="108.4" y="1339.0" font-size="27" text-anchor="middle">平成元</text>
<text class="num" font-size="30.0" text-anchor="middle" y="1373"><tspan class="jp" font-size="27.6" x="60.20" dy="0.2">（</tspan><tspan x="108.40" dy="-0.2">1989</tspan><tspan class="jp" font-size="27.6" x="156.80" dy="0.2">）</tspan></text>
<text class="num" x="291.2" y="1339.5" font-size="30.0" text-anchor="middle">6</text>
<text class="num" font-size="30.0" text-anchor="middle" y="1373"><tspan class="jp" font-size="27.6" x="243.00" dy="0.2">（</tspan><tspan x="291.20" dy="-0.2">1994</tspan><tspan class="jp" font-size="27.6" x="339.60" dy="0.2">）</tspan></text>
<text class="num" x="473.8" y="1339.5" font-size="30.0" text-anchor="middle">11</text>
<text class="num" font-size="30.0" text-anchor="middle" y="1373"><tspan class="jp" font-size="27.6" x="425.60" dy="0.2">（</tspan><tspan x="473.80" dy="-0.2">1999</tspan><tspan class="jp" font-size="27.6" x="522.20" dy="0.2">）</tspan></text>
<text class="num" x="656.5" y="1339.5" font-size="30.0" text-anchor="middle">16</text>
<text class="num" font-size="30.0" text-anchor="middle" y="1373"><tspan class="jp" font-size="27.6" x="608.30" dy="0.2">（</tspan><tspan x="656.50" dy="-0.2">2004</tspan><tspan class="jp" font-size="27.6" x="704.90" dy="0.2">）</tspan></text>
<text class="num" x="839.2" y="1339.5" font-size="30.0" text-anchor="middle">21</text>
<text class="num" font-size="30.0" text-anchor="middle" y="1373"><tspan class="jp" font-size="27.6" x="791.00" dy="0.2">（</tspan><tspan x="839.20" dy="-0.2">2009</tspan><tspan class="jp" font-size="27.6" x="887.60" dy="0.2">）</tspan></text>
<text class="num" x="1022" y="1339.5" font-size="30.0" text-anchor="middle">26</text>
<text class="num" font-size="30.0" text-anchor="middle" y="1373"><tspan class="jp" font-size="27.6" x="973.80" dy="0.2">（</tspan><tspan x="1022.00" dy="-0.2">2014</tspan><tspan class="jp" font-size="27.6" x="1070.40" dy="0.2">）</tspan></text>
<text class="jp" x="1254.4" y="1339.3" font-size="27" text-anchor="middle">令和２年</text>
<text class="num" font-size="30.0" text-anchor="middle" y="1373"><tspan class="jp" font-size="27.6" x="1192.40" dy="0.2">（</tspan><tspan x="1240.60" dy="-0.2">2020</tspan><tspan class="jp" font-size="27.6" x="1289.00" dy="0.2">）</tspan></text>
<rect x="302.5" y="749.5" width="957.2" height="91" fill="#fff" stroke="#231815" stroke-width="1.4"/>
<rect x="315" y="762" width="53" height="26.5" fill="#96b5d2"/>
<text class="jp" x="381.5" y="786" font-size="27" text-anchor="start">ねり製品</text>
<rect x="525" y="760" width="53" height="26.5" fill="#f5bb77"/>
<text class="jp" x="590.8" y="784" font-size="27" text-anchor="start">冷凍食品</text>
<rect x="735" y="760" width="53" height="26.5" fill="#99ca94"/>
<text class="jp" x="800.7" y="784" font-size="27" text-anchor="start">塩蔵品</text>
<rect x="917" y="760" width="53" height="26.5" fill="#ecafcf"/>
<text class="jp" x="982.5" y="784" font-size="27" text-anchor="start">塩干品</text>
<rect x="1099" y="760" width="53" height="26.5" fill="#f5e185"/>
<text class="jp" x="1164" y="781" font-size="27" text-anchor="start">節製品</text>
<rect x="315" y="801" width="53" height="27" fill="#b9a9cc"/>
<text class="jp" x="381" y="822.5" font-size="27" text-anchor="start">煮干し品</text>
<rect x="525" y="801" width="53" height="27" fill="#d9df8c"/>
<text class="jp" x="590.8" y="823.8" font-size="27" text-anchor="start">素干し品</text>
<rect x="735" y="801" width="53" height="27" fill="#53b7b7"/>
<text class="jp" x="800.3" y="823.8" font-size="27" text-anchor="start">くん製品</text>
<rect x="944" y="801" width="53" height="27" fill="#d2d7da"/>
<text class="jp" x="1010.3" y="823.8" font-size="27" text-anchor="start">その他</text>
</g>
</svg>
</body></html>
